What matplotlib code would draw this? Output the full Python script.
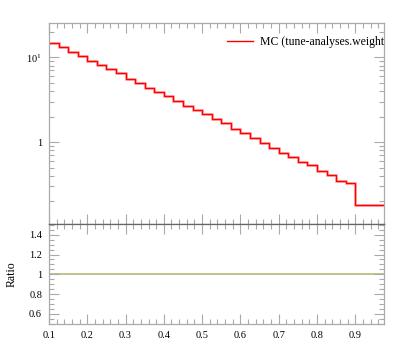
import numpy as np
import matplotlib
matplotlib.use('Agg')
import matplotlib.pyplot as plt
from matplotlib.lines import Line2D
from matplotlib.ticker import MultipleLocator, FixedLocator, FixedFormatter, LogLocator, NullFormatter, FuncFormatter

plt.rcParams['font.family'] = ['Liberation Serif', 'DejaVu Serif']
plt.rcParams['mathtext.fontset'] = 'custom'
plt.rcParams['mathtext.rm'] = 'Liberation Serif'

# bin edges: 0.025 wide up to 0.9, last bin wider
edges = list(np.round(np.arange(0.1, 0.9001, 0.025), 3)) + [0.975]

# MC histogram heights
mc_vals = [14.9, 13.2, 11.6, 10.4, 9.12, 8.11, 7.21, 6.47, 5.54, 4.93,
           4.38, 3.86, 3.45, 3.09, 2.70, 2.37, 2.14, 1.87, 1.68, 1.44,
           1.27, 1.11, 0.98, 0.84, 0.75, 0.66, 0.58, 0.53, 0.46, 0.41,
           0.35, 0.33, 0.18]
ratio_vals = [1.0] * len(mc_vals)

xticks = [0.1, 0.2, 0.3, 0.4, 0.5, 0.6, 0.7, 0.8, 0.9]
ratio_ticks = [0.6, 0.8, 1.0, 1.2, 1.4]

light = '#aaaaaa'
dark = '#666666'

fig = plt.figure(figsize=(3.97, 3.58), dpi=100)
ax = fig.add_axes([0.1234, 0.3743, 0.8438, 0.5606])
rax = fig.add_axes([0.1234, 0.095, 0.8438, 0.2793], sharex=ax)

# main panel
ax.stairs(mc_vals, edges, baseline=None, color='#ff8080', lw=2.0, alpha=0.6)
ax.stairs(mc_vals, edges, baseline=None, color='#ff0000', lw=1.0)
ax.set_yscale('log')
ax.set_ylim(0.108, 25.2)
ax.set_xlim(0.1, 0.975)
ax.yaxis.set_major_locator(FixedLocator([1, 10]))
ax.yaxis.set_major_formatter(FixedFormatter(['1', r'$\mathrm{10^{1}}$']))
ax.yaxis.set_minor_locator(LogLocator(base=10, subs=[2, 3, 4, 5, 6, 7, 8, 9]))
ax.yaxis.set_minor_formatter(NullFormatter())

h = Line2D([], [], color='#ff0000', lw=1.0)
ax.legend([h], ['MC (tune-analyses.weight'], loc='upper left',
          bbox_to_anchor=(0.531, 0.935), frameon=False, fontsize=8.5,
          handlelength=2.2, handletextpad=0.6, borderpad=0, borderaxespad=0)

# ratio panel
rax.stairs(ratio_vals, edges, baseline=None, color='#b8b878', lw=1.2)
rax.set_ylim(0.497, 1.509)
rax.yaxis.set_major_locator(FixedLocator(ratio_ticks))
rax.yaxis.set_major_formatter(FuncFormatter(lambda v, p: '%g' % v))
rax.yaxis.set_minor_locator(MultipleLocator(0.05))
rax.xaxis.set_major_locator(FixedLocator(xticks))
rax.xaxis.set_major_formatter(FuncFormatter(lambda v, p: '%g' % v))
rax.xaxis.set_minor_locator(MultipleLocator(0.02))
rax.set_ylabel('Ratio', fontsize=8.5, labelpad=8)

for a in (ax, rax):
    a.tick_params(which='both', direction='in', top=True, right=True,
                  bottom=True, left=True, color=light, width=0.8,
                  labelsize=7.5, pad=5)
    a.tick_params(which='major', length=7.2)
    a.tick_params(which='minor', length=3.6)
    for s in a.spines.values():
        s.set_color(light)
        s.set_linewidth(0.9)

ax.tick_params(labelbottom=False)
ax.spines['bottom'].set_color(dark)
rax.spines['top'].set_color(dark)

fig.savefig('out.png', dpi=100)
